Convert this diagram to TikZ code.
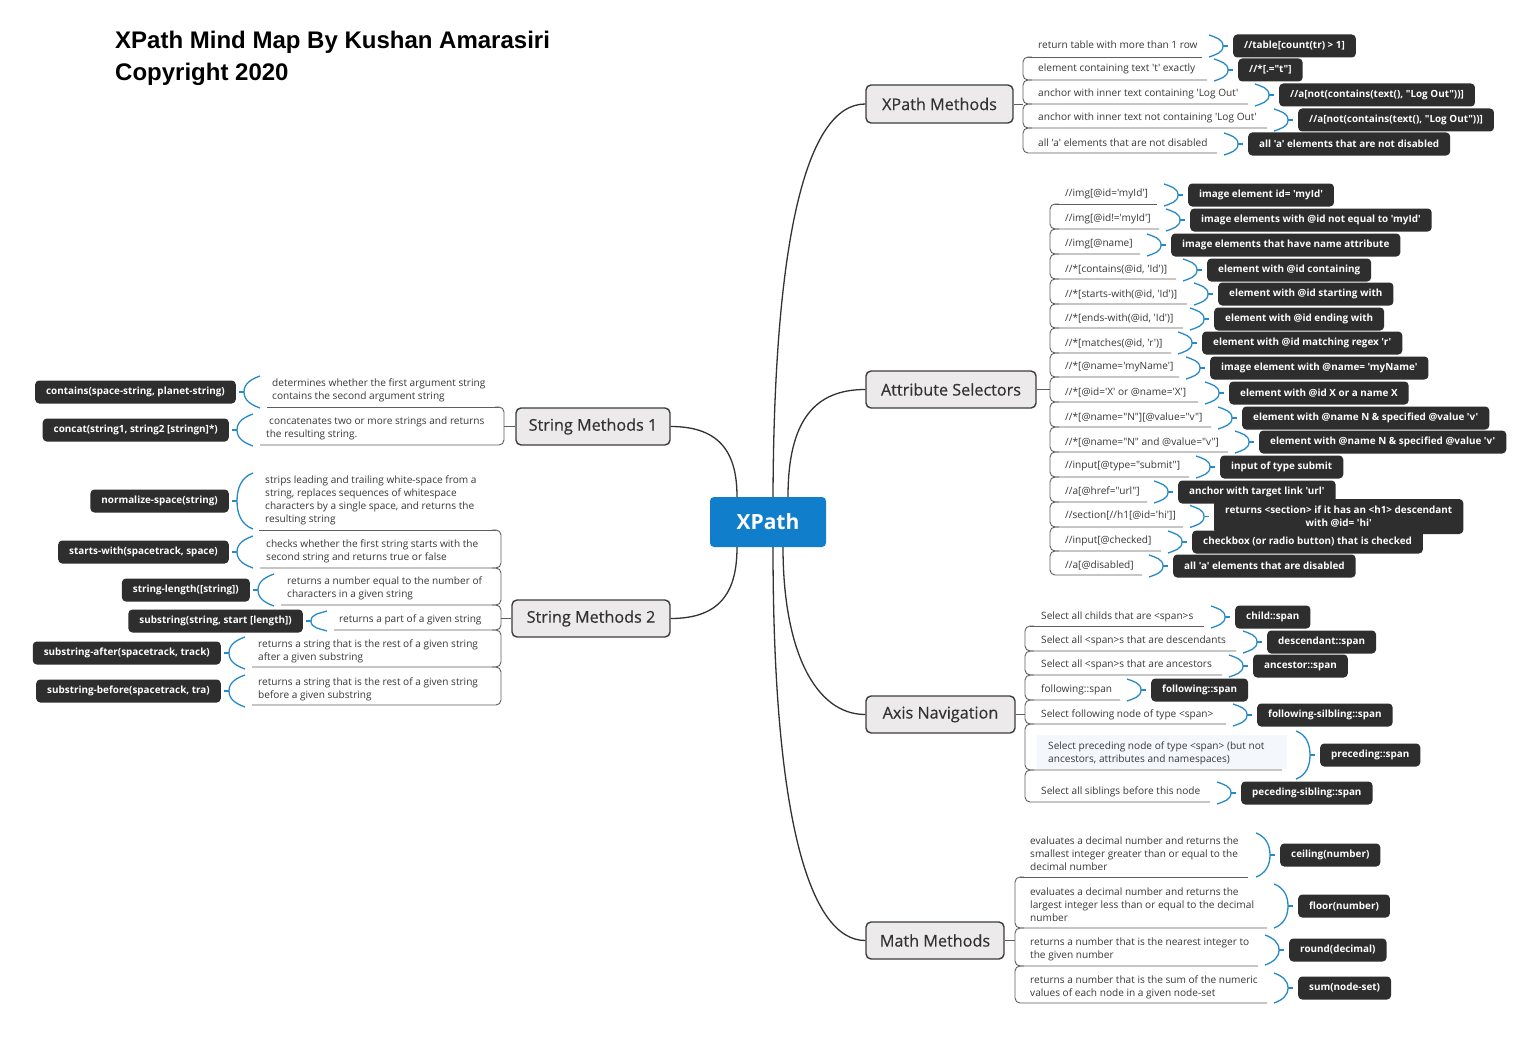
\documentclass[tikz,border=0pt]{standalone}
\usepackage{fontspec}
\newfontfamily\lato{Open Sans}
\newfontfamily\topicf[FakeBold=0.4]{Open Sans}
\newfontfamily\titlef{Liberation Sans}
\definecolor{xpblue}{RGB}{17,126,204}
\definecolor{topicfill}{RGB}{236,234,235}
\definecolor{topicborder}{RGB}{60,60,60}
\definecolor{topictext}{RGB}{50,50,50}
\definecolor{boxdark}{RGB}{46,46,46}
\definecolor{txtgray}{RGB}{55,55,55}
\definecolor{linegray}{RGB}{95,95,95}
\definecolor{brkblue}{RGB}{38,138,200}
\definecolor{curvecol}{RGB}{50,50,50}
\definecolor{lightbg}{RGB}{244,248,253}
\tikzset{
 rowline/.style={draw=linegray, line width=0.9pt},
 lt/.style={anchor=west, inner sep=0pt, align=left, text=txtgray, font=\lato\fontsize{10.1}{13}\selectfont},
 db/.style={fill=boxdark, text=white, rounded corners=4pt, inner xsep=11pt, inner ysep=0pt, minimum height=23pt, align=center, font=\lato\bfseries\fontsize{9.9}{12.5}\selectfont},
 brk/.style={draw=brkblue, line width=1.3pt},
 topic/.style={draw=topicborder, fill=topicfill, line width=1.4pt, rounded corners=5pt, inner sep=0pt, text=topictext, font=\topicf\fontsize{16.2}{18}\selectfont},
 curve/.style={draw=curvecol, line width=1.3pt},
}
\newcommand\rfirst[3]{\draw[rowline] ({#1+5},#2) -- (#3,#2);}
\newcommand\rseg[4]{\draw[rowline,rounded corners=5pt] ({#1+9},#2) -- (#1,#2) -- (#1,#3) -- (#4,#3);}
\newcommand\lfirst[3]{\draw[rowline] ({#1-5},#2) -- (#3,#2);}
\newcommand\lseg[4]{\draw[rowline,rounded corners=5pt] ({#1-9},#2) -- (#1,#2) -- (#1,#3) -- (#4,#3);}
\newcommand\rleaf[8]{%
 \node[lt] (#1) at (#2,#3) {#4};
 \node[db,anchor=west] (#1b) at (#5,#6) {#7};
 \draw[brk] ([shift={(-24,-#8)}]#1b.west) to[out=-20,in=90] ([shift={(-10,0)}]#1b.west) to[out=-90,in=20] ([shift={(-24,#8)}]#1b.west);
 \draw[brk] ([shift={(-10,0)}]#1b.west) -- ([shift={(-5,0)}]#1b.west);
}
\newcommand\lleaf[8]{%
 \node[lt] (#1) at (#2,#3) {#4};
 \node[db,anchor=east] (#1b) at (#5,#6) {#7};
 \draw[brk] ([shift={(24,-#8)}]#1b.east) to[out=200,in=90] ([shift={(8,0)}]#1b.east) to[out=-90,in=160] ([shift={(24,#8)}]#1b.east);
 \draw[brk] ([shift={(8,0)}]#1b.east) -- ([shift={(3,0)}]#1b.east);
}
\begin{document}
\begin{tikzpicture}[x=1pt,y=-1pt]
\useasboundingbox (0,0) rectangle (1536,1038);
\fill[white] (0,0) rectangle (1536,1038);

% title
\node[anchor=base west, inner sep=0pt, font=\titlef\bfseries\fontsize{24}{28}\selectfont] (title1) at (115,49) {XPath Mind Map By Kushan Amarasiri};
\node[anchor=base west, inner sep=0pt, font=\titlef\bfseries\fontsize{24}{28}\selectfont] (title2) at (115,81) {Copyright 2020};

% central and main topics
\node[fill=xpblue, rounded corners=4pt, minimum width=116pt, minimum height=50pt, inner sep=0pt, text=white, font=\lato\bfseries\fontsize{21}{24}\selectfont] (xp) at (768,522) {XPath};
\node[topic, minimum width=147pt, minimum height=38pt] (xm) at (939.5,104) {XPath Methods};
\node[topic, minimum width=170pt, minimum height=37pt] (as) at (951,389.5) {Attribute Selectors};
\node[topic, minimum width=154pt, minimum height=37pt] (s1) at (593,426.5) {String Methods 1};
\node[topic, minimum width=158pt, minimum height=37pt] (s2) at (591,618.5) {String Methods 2};
\node[topic, minimum width=149pt, minimum height=37pt] (an) at (940.5,714.5) {Axis Navigation};
\node[topic, minimum width=138pt, minimum height=37pt] (mm) at (935,940.5) {Math Methods};

% curves from centre
\draw[curve] ([xshift=5pt]xp.north) .. controls (774,240) and (806,104) .. (xm.west);
\draw[curve] ([xshift=20pt]xp.north) .. controls (788,420) and (815,389.5) .. (as.west);
\draw[curve] ([xshift=15pt]xp.south) .. controls (783,650) and (815,714.5) .. (an.west);
\draw[curve] ([xshift=5pt]xp.south) .. controls (773,820) and (810,940.5) .. (mm.west);
\draw[curve] (s1.east) .. controls (722,426.5) and (737,455) .. ([xshift=-31pt]xp.north);
\draw[curve] (s2.east) .. controls (722,618.5) and (737,590) .. ([xshift=-31pt]xp.south);

% ---------- XPath Methods ----------
\coordinate (xmS) at (1023,104);
\draw[rowline] (xm.east) -- (xmS);
\rfirst{1023}{57}{1202}
\rseg{1023}{57}{80}{1207}
\rseg{1023}{80}{104}{1248}
\rseg{1023}{104}{128}{1267}
\rseg{1023}{128}{153}{1217}
\rleaf{xm1}{1038}{45}{return table with more than 1 row}{1233}{46}{//table[count(tr) > 1]}{11}
\rleaf{xm2}{1038}{69}{element containing text 't' exactly}{1238}{70}{//*[.="t"]}{11}
\rleaf{xm3}{1038}{94}{anchor with inner text containing 'Log Out'}{1279}{95}{//a[not(contains(text(), "Log Out"))]}{11}
\rleaf{xm4}{1038}{118}{anchor with inner text not containing 'Log Out'}{1298}{120}{//a[not(contains(text(), "Log Out"))]}{11}
\rleaf{xm5}{1038}{143}{all 'a' elements that are not disabled}{1248}{144}{all 'a' elements that are not disabled}{11}

% ---------- Attribute Selectors ----------
\coordinate (asS) at (1050,389.5);
\draw[rowline] (as.east) -- (asS);
\rfirst{1050}{204}{1157}
\rseg{1050}{204}{229}{1159}
\rseg{1050}{229}{254}{1140}
\rseg{1050}{254}{279}{1176}
\rseg{1050}{279}{304}{1187}
\rseg{1050}{304}{328}{1183}
\rseg{1050}{328}{353}{1171}
\rseg{1050}{353}{377}{1179}
\rseg{1050}{377}{402}{1198}
\rseg{1050}{402}{427}{1211}
\rseg{1050}{427}{452}{1228}
\rseg{1050}{452}{477}{1189}
\rseg{1050}{477}{502}{1147}
\rseg{1050}{502}{527}{1183}
\rseg{1050}{527}{551}{1161}
\rseg{1050}{551}{575}{1142}
\rleaf{as1}{1065}{194}{//img[@id='myId']}{1188}{195}{image element id= 'myId'}{11}
\rleaf{as2}{1065}{219}{//img[@id!='myId']}{1190}{220}{image elements with @id not equal to 'myId'}{11}
\rleaf{as3}{1065}{244}{//img[@name]}{1171}{245}{image elements that have name attribute}{11}
\rleaf{as4}{1065}{269}{//*[contains(@id, 'Id')]}{1207}{270}{element with @id containing}{11}
\rleaf{as5}{1065}{294}{//*[starts-with(@id, 'Id')]}{1218}{294}{element with @id starting with}{11}
\rleaf{as6}{1065}{318}{//*[ends-with(@id, 'Id')]}{1214}{319}{element with @id ending with}{11}
\rleaf{as7}{1065}{343}{//*[matches(@id, 'r')]}{1202}{343}{element with @id matching regex 'r'}{11}
\rleaf{as8}{1065}{367}{//*[@name='myName']}{1210}{368}{image element with @name= 'myName'}{11}
\rleaf{as9}{1065}{392}{//*[@id='X' or @name='X']}{1229}{393}{element with @id X or a name X}{11}
\rleaf{as10}{1065}{417}{//*[@name="N"][@value="v"]}{1242}{418}{element with @name N \& specified @value 'v'}{11}
\rleaf{as11}{1065}{442}{//*[@name="N" and @value="v"]}{1259}{442}{element with @name N \& specified @value 'v'}{11}
\rleaf{as12}{1065}{466}{//input[@type="submit"]}{1220}{467}{input of type submit}{11}
\rleaf{as13}{1065}{491}{//a[@href="url"]}{1178}{492}{anchor with target link 'url'}{11}
\node[lt] (as14) at (1065,515) {//section[//h1[@id='hi']]};
\node[db,anchor=west,minimum height=35pt] (as14b) at (1214,516.5) {returns <section> if it has an <h1> descendant\\with @id= 'hi'};
\draw[brk] ([shift={(-24,-11)}]as14b.west) to[out=-20,in=90] ([shift={(-10,0)}]as14b.west) to[out=-90,in=20] ([shift={(-24,11)}]as14b.west);
\draw[brk] ([shift={(-10,0)}]as14b.west) -- ([shift={(-5,0)}]as14b.west);
\rleaf{as15}{1065}{541}{//input[@checked]}{1192}{542}{checkbox (or radio button) that is checked}{11}
\rleaf{as16}{1065}{565}{//a[@disabled]}{1173}{566}{all 'a' elements that are disabled}{11}

% ---------- Axis Navigation ----------
\coordinate (anS) at (1025,714.5);
\draw[rowline] (an.east) -- (anS);
\fill[lightbg] (1037,735) rectangle (1287,769);
\rfirst{1025}{626}{1204}
\rseg{1025}{626}{651}{1236}
\rseg{1025}{651}{675}{1222}
\rseg{1025}{675}{700}{1120}
\rseg{1025}{700}{724}{1226}
\rseg{1025}{724}{770}{1282}
\rseg{1025}{770}{802}{1210}
\rleaf{an1}{1041}{617}{Select all childs that are <span>s}{1235}{617}{child::span}{11}
\rleaf{an2}{1041}{641}{Select all <span>s that are descendants}{1267}{642}{descendant::span}{11}
\rleaf{an3}{1041}{665}{Select all <span>s that are ancestors}{1253}{666}{ancestor::span}{11}
\rleaf{an4}{1041}{690}{following::span}{1151}{690}{following::span}{11}
\rleaf{an5}{1041}{715}{Select following node of type <span>}{1257}{715}{following-silbling::span}{11}
\rleaf{an6}{1048}{753.5}{Select preceding node of type <span> (but not\\ancestors, attributes and namespaces)}{1320}{755}{preceding::span}{24}
\rleaf{an7}{1041}{792}{Select all siblings before this node}{1241}{793}{peceding-sibling::span}{11}

% ---------- Math Methods ----------
\coordinate (mmS) at (1015,940.5);
\draw[rowline] (mm.east) -- (mmS);
\rfirst{1015}{877}{1248}
\rseg{1015}{877}{928}{1267}
\rseg{1015}{928}{966}{1258}
\rseg{1015}{966}{1003}{1267}
\rleaf{mm1}{1030}{854}{evaluates a decimal number and returns the\\smallest integer greater than or equal to the\\decimal number}{1280}{855}{ceiling(number)}{22}
\rleaf{mm2}{1030}{905}{evaluates a decimal number and returns the\\largest integer less than or equal to the decimal\\number}{1298}{906}{floor(number)}{22}
\rleaf{mm3}{1030}{949.5}{returns a number that is the nearest integer to\\the given number}{1289}{950}{round(decimal)}{15}
\rleaf{mm4}{1030}{987.5}{returns a number that is the sum of the numeric\\values of each node in a given node-set}{1298}{988}{sum(node-set)}{15}

% ---------- String Methods 1 ----------
\coordinate (s1S) at (504,426.5);
\draw[rowline] (s1.west) -- (s1S);
\lfirst{504}{407}{267}
\lseg{504}{407}{445}{260}
\lleaf{s11}{272}{390.5}{determines whether the first argument string\\contains the second argument string}{236}{392}{contains(space-string, planet-string)}{16}
\lleaf{s12}{266}{428.5}{\hspace{3pt}concatenates two or more strings and returns\\the resulting string.}{229}{430}{concat(string1, string2 [stringn]*)}{16}

% ---------- String Methods 2 ----------
\coordinate (s2S) at (501,618.5);
\draw[rowline] (s2.west) -- (s2S);
\lfirst{501}{530}{259}
\lseg{501}{530}{568}{260}
\lseg{501}{568}{605}{281}
\lseg{501}{605}{630}{334}
\lseg{501}{630}{667}{252}
\lseg{501}{667}{705}{252}
\lleaf{s21}{265}{500.5}{strips leading and trailing white-space from a\\string, replaces sequences of whitespace\\characters by a single space, and returns the\\resulting string}{229}{501}{normalize-space(string)}{28}
\lleaf{s22}{266}{551.5}{checks whether the first string starts with the\\second string and returns true or false}{229}{552}{starts-with(spacetrack, space)}{16}
\lleaf{s23}{287}{588.5}{returns a number equal to the number of\\characters in a given string}{250}{590}{string-length([string])}{16}
\lleaf{s24}{339}{620}{returns a part of a given string}{303}{621}{substring(string, start [length])}{10}
\lleaf{s25}{258}{651.5}{returns a string that is the rest of a given string\\after a given substring}{221}{653}{substring-after(spacetrack, track)}{16}
\lleaf{s26}{258}{689.5}{returns a string that is the rest of a given string\\before a given substring}{221}{691}{substring-before(spacetrack, tra)}{16}
\end{tikzpicture}
\end{document}
